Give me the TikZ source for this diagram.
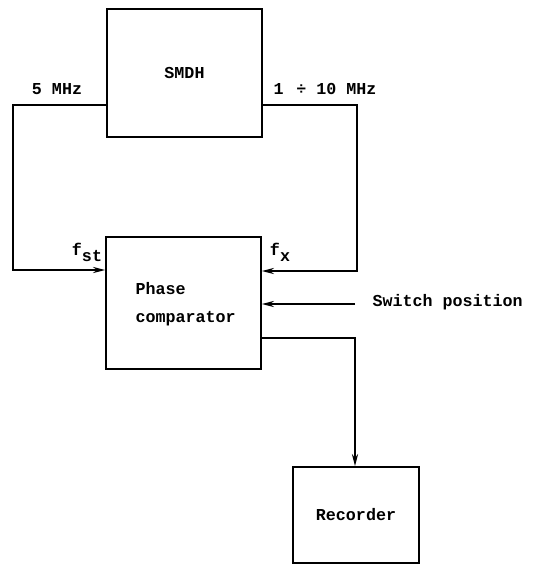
\documentclass[tikz,border=0pt]{standalone}
\usepackage{fontspec}
\setmonofont{Liberation Mono}
\usepackage{tikz}
\usetikzlibrary{arrows.meta,calc,positioning}

\begin{document}
\begin{tikzpicture}[
    x=0.02cm, y=-0.02cm,
    >={Stealth[length=7pt,width=3.5pt]},
    line width=0.75pt,
    every node/.style={font=\ttfamily\bfseries\fontsize{9.5}{11}\selectfont},
    blk/.style={draw, rectangle, line width=0.9pt, align=left}
]
    \useasboundingbox (0,0) rectangle (541,565);

    \node[blk, minimum width=3.1cm, minimum height=2.56cm] (smdh) at (184.5,73) {SMDH};
    \node[blk, minimum width=3.1cm, minimum height=2.64cm] (pc) at (183.5,303) {};
    \node[blk, minimum width=2.52cm, minimum height=1.92cm] (rec) at (356,515) {Recorder};

    \node[anchor=west, align=left] (pctxt) at (129,304) {Phase\\[5pt]comparator};

    \coordinate (l1) at (13,105);
    \coordinate (l2) at (13,270);
    \coordinate (r1) at (357,105);
    \coordinate (r2) at (357,271);
    \coordinate (sw) at (355,304);
    \coordinate (o1) at (355,338);

    \draw[->] (smdh.west |- l1) -- (l1) -- (l2) -- (pc.west |- l2);
    \draw[->] (smdh.east |- r1) -- (r1) -- (r2) -- (pc.east |- r2);
    \draw[->] (sw) -- (pc.east |- sw);
    \draw[->] (pc.east |- o1) -- (o1) -- (rec.north -| o1);

    \node (f5) at (57,89) {5 MHz};
    \node (f10) at (325,89) {1 \,÷ 10 MHz};
    \node (fst) at (87,252) {f\raisebox{-0.7ex}{st}};
    \node (fx) at (280,252) {f\raisebox{-0.7ex}{x}};
    \node[anchor=west] (swlbl) at (366,302) {Switch position};
\end{tikzpicture}
\end{document}
